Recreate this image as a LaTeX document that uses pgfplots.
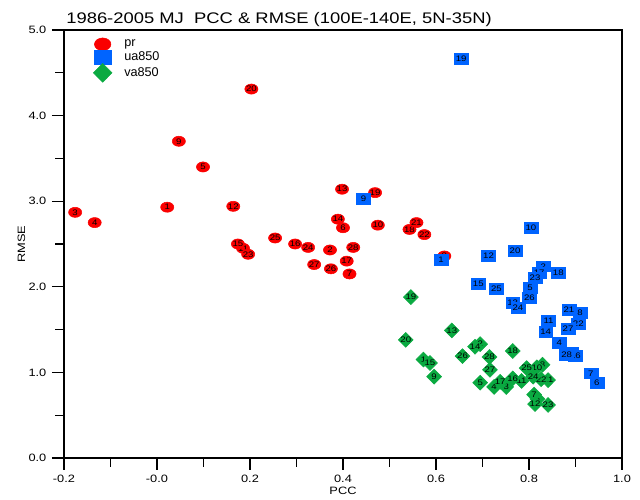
\documentclass[border=0pt]{standalone}
\usepackage{fontspec}
\setmainfont{Liberation Sans}
\usepackage{pgfplots}
\pgfplotsset{compat=1.18}
\usepackage{pgfplotstable}

\definecolor{prred}{RGB}{250,0,0}
\definecolor{uablue}{RGB}{0,100,255}
\definecolor{vagreen}{RGB}{10,170,65}

\pgfplotstableread{
x y lab
0.022 2.93 1
0.372 2.43 2
-0.176 2.87 3
-0.134 2.75 4
0.099 3.40 5
0.400 2.69 6
0.414 2.15 7
0.618 2.36 8
0.047 3.70 9
0.475 2.72 10
0.185 2.45 11
0.164 2.94 12
0.398 3.14 13
0.389 2.79 14
0.174 2.50 15
0.297 2.50 16
0.408 2.30 17
0.543 2.67 18
0.469 3.10 19
0.203 4.31 20
0.558 2.75 21
0.575 2.61 22
0.196 2.38 23
0.325 2.46 24
0.254 2.57 25
0.374 2.21 26
0.338 2.26 27
0.422 2.46 28
}\prdata

\pgfplotstableread{
x y lab
0.611 2.32 1
0.831 2.24 2
0.890 1.23 3
0.865 1.35 4
0.802 1.99 5
0.946 0.88 6
0.933 0.99 7
0.910 1.70 8
0.444 3.03 9
0.804 2.69 10
0.842 1.60 11
0.713 2.36 12
0.765 1.81 13
0.836 1.48 14
0.691 2.03 15
0.900 1.19 16
0.822 2.16 17
0.863 2.16 18
0.654 4.66 19
0.770 2.42 20
0.886 1.73 21
0.906 1.57 22
0.813 2.11 23
0.776 1.76 24
0.730 1.98 25
0.801 1.87 26
0.884 1.51 27
0.881 1.21 28
}\uadata

\pgfplotstableread{
x y lab
0.573 1.15 1
0.695 1.33 2
0.751 0.83 3
0.725 0.83 4
0.695 0.88 5
0.818 0.69 6
0.811 0.74 7
0.829 1.09 8
0.596 0.95 9
0.817 1.06 10
0.784 0.90 11
0.813 0.63 12
0.634 1.49 13
0.684 1.30 14
0.587 1.11 15
0.765 0.93 16
0.738 0.89 17
0.765 1.25 18
0.546 1.88 19
0.535 1.38 20
0.841 0.91 21
0.826 0.92 22
0.841 0.62 23
0.809 0.95 24
0.795 1.05 25
0.657 1.19 26
0.716 1.03 27
0.715 1.18 28
}\vadata

\begin{document}
\begin{tikzpicture}
% page = 640x500 px at 0.75pt per px; axis box starts at (0,0)
\path[use as bounding box] (-48pt,-31.5pt) rectangle (432pt,343.5pt);
\begin{axis}[
  scale only axis,
  width=418.5pt, height=321pt,
  xmin=-0.2, xmax=1.0, ymin=0, ymax=5,
  xtick={-0.2,0,0.2,0.4,0.6,0.8,1.0},
  xticklabels={-0.2,-0.0,0.2,0.4,0.6,0.8,1.0},
  ytick={0,1,2,3,4,5},
  yticklabels={0.0,1.0,2.0,3.0,4.0,5.0},
  minor xtick={-0.1,0.1,0.3,0.5,0.7,0.9},
  minor ytick={0.5,1.5,2.5,3.5,4.5},
  tick align=outside,
  xtick pos=lower, ytick pos=left,
  major tick length=9pt, minor tick length=6.5pt,
  every tick/.style={black, line width=1pt},
  axis line style={line width=1.1pt},
  tick label style={font=\fontsize{8}{9}\selectfont, xscale=1.2},
  xlabel={PCC}, ylabel={RMSE},
  label style={font=\fontsize{8}{9}\selectfont, xscale=1.2},
  xlabel style={yshift=3pt},
  ylabel style={yshift=-5pt},
  title={1986-2005 MJ\ \ PCC \& RMSE (100E-140E, 5N-35N)},
  title style={at={(0,1)}, anchor=south west, inner sep=0pt, yshift=-3.5pt,
    xshift=1.5pt, font=\fontsize{11.5}{13}\selectfont, xscale=1.2},
  clip=false,
  point meta=explicit symbolic,
  nodes near coords,
  every node near coord/.append style={anchor=center, inner sep=0pt,
    font=\fontsize{6}{6}\selectfont, xscale=1.2, black},
  legend style={at={(0.045,0.99)}, anchor=north west, draw=none, fill=none,
    font=\fontsize{9.5}{11}\selectfont, row sep=-1.5pt},
  legend cell align=left,
  legend image code/.code={%
    \path (0.25cm,0cm) ++(14pt,0pt);
    \draw[#1, every mark/.append style={scale=1.25}]
      plot coordinates {(0.25cm,0cm)};},
]
\addplot[only marks, mark=*, color=prred, mark size=3.8pt,
  mark options={xscale=1.3}]
  table[x=x, y=y, meta=lab] {\prdata};
\addlegendentry{pr}
\addplot[only marks, mark=square*, color=uablue, mark size=4.1pt,
  mark options={xscale=1.27}]
  table[x=x, y=y, meta=lab] {\uadata};
\addlegendentry{ua850}
\addplot[only marks, mark=diamond*, color=vagreen, mark size=5.6pt,
  mark options={xscale=1.33}]
  table[x=x, y=y, meta=lab] {\vadata};
\addlegendentry{va850}
\end{axis}
\end{tikzpicture}
\end{document}
